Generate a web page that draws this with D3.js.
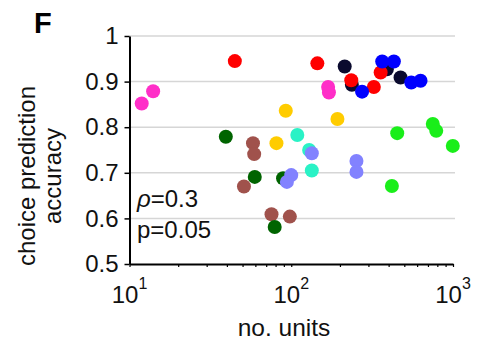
<!DOCTYPE html>
<html lang="en">
<head>
    <meta charset="UTF-8">
    <title>Choice prediction accuracy vs no. units</title>
    <script src="https://d3js.org/d3.v7.min.js"></script>
    <style>
        body { margin: 0; background: #fff; }
        text { font-family: "Liberation Sans", Arial, Helvetica, sans-serif; }
    </style>
</head>
<body>
    <script>
        // panel F: accuracy against number of units, one colour per animal/session
        var w = 478;
        var h = 345;

        // colour groups, in drawing order (later ones on top)
        var groupColors = ['#a0524c', '#006400', '#2af2c6', '#8282ff', '#ffcc00',
                           '#ff2ec8', '#0a0a2e', '#ff0000', '#0000ff', '#1aee1a'];

        // one entry per point
        var units = [
            58, 59, 51, 75.5, 98,
            39.4, 59.5, 89, 79,
            109, 129, 134,
            134, 100, 94, 253, 253,
            92.5, 193, 81,
            11.9, 14.0, 169, 171,
            214, 237, 390, 474,
            44.8, 145, 235, 324, 357,
            274, 365, 431, 552, 630,
            452, 750, 788, 997, 419
        ];
        var accuracy = [
            0.765, 0.741, 0.670, 0.609, 0.604,
            0.779, 0.691, 0.688, 0.581,
            0.783, 0.750, 0.705,
            0.743, 0.695, 0.680, 0.726, 0.702,
            0.836, 0.818, 0.765,
            0.852, 0.879, 0.888, 0.876,
            0.933, 0.893, 0.927, 0.909,
            0.945, 0.940, 0.903, 0.888, 0.920,
            0.878, 0.944, 0.944, 0.898, 0.902,
            0.787, 0.807, 0.792, 0.759, 0.671
        ];
        var group = [
            0, 0, 0, 0, 0,
            1, 1, 1, 1,
            2, 2, 2,
            3, 3, 3, 3, 3,
            4, 4, 4,
            5, 5, 5, 5,
            6, 6, 6, 6,
            7, 7, 7, 7, 7,
            8, 8, 8, 8, 8,
            9, 9, 9, 9, 9
        ];

        var yTicks = [0.5, 0.6, 0.7, 0.8, 0.9, 1];
        var yTickLabels = ['0.5', '0.6', '0.7', '0.8', '0.9', '1'];
        var xTicks = [10, 100, 1000];
        var xTickExp = ['1', '2', '3'];
        var xMinor = [20, 30, 40, 50, 60, 70, 80, 90, 200, 300, 400, 500, 600, 700, 800, 900];

        var dataset = units.map(function(u, i) {
            return { units: u, acc: accuracy[i], g: group[i] };
        });

        var xScale = d3.scaleLog()
                       .domain([10, 1000])
                       .range([129.5, 453]);

        var yScale = d3.scaleLinear()
                       .domain([0.5, 1])
                       .range([264, 36]);

        var svg = d3.select('body')
                    .append('svg')
                    .attr('width', w)
                    .attr('height', h);

        // grid
        svg.selectAll('.grid')
           .data(yTicks.slice(1))
           .enter()
           .append('line')
           .attr('class', 'grid')
           .attr('x1', xScale(10))
           .attr('x2', xScale(1000) + 2)
           .attr('y1', function(d) { return yScale(d); })
           .attr('y2', function(d) { return yScale(d); })
           .attr('stroke', '#d6d6d6')
           .attr('stroke-width', 1.5);

        // y axis
        var yAxis = d3.axisLeft(yScale)
                      .tickValues(yTicks)
                      .tickSize(5)
                      .tickSizeOuter(0)
                      .tickPadding(6)
                      .tickFormat(function(d, i) { return yTickLabels[i]; });

        var gy = svg.append('g')
                    .attr('transform', 'translate(' + xScale(10) + ',0)')
                    .call(yAxis);
        gy.select('.domain').attr('stroke', '#000').attr('stroke-width', 2);
        gy.selectAll('.tick line').attr('stroke', '#000').attr('stroke-width', 1.5);
        gy.selectAll('.tick text')
          .attr('font-size', 24)
          .attr('font-family', '"Liberation Sans", Arial, sans-serif')
          .attr('fill', '#111');

        // x axis, log with minor ticks
        var xAxis = d3.axisBottom(xScale)
                      .tickValues(xTicks.concat(xMinor))
                      .tickSize(3)
                      .tickSizeOuter(0)
                      .tickFormat('');

        var gx = svg.append('g')
                    .attr('transform', 'translate(0,' + yScale(0.5) + ')')
                    .call(xAxis);
        gx.select('.domain').attr('stroke', '#000').attr('stroke-width', 2);
        gx.selectAll('.tick line').attr('stroke', '#000').attr('stroke-width', 1.2);

        var xl = svg.selectAll('.xlab')
                    .data(xTicks)
                    .enter()
                    .append('text')
                    .attr('class', 'xlab')
                    .attr('x', function(d) { return xScale(d); })
                    .attr('y', 303)
                    .attr('text-anchor', 'middle')
                    .attr('font-size', 24)
                    .attr('fill', '#111');
        xl.append('tspan').text('10');
        xl.append('tspan')
          .attr('dy', -14)
          .attr('font-size', 16)
          .text(function(d, i) { return xTickExp[i]; });

        // points
        svg.selectAll('.dot')
           .data(dataset)
           .enter()
           .append('circle')
           .attr('class', 'dot')
           .attr('cx', function(d) { return xScale(d.units); })
           .attr('cy', function(d) { return yScale(d.acc); })
           .attr('r', 7)
           .attr('fill', function(d) { return groupColors[d.g]; });

        // stats
        svg.append('text')
           .attr('x', 137)
           .attr('y', 207)
           .attr('font-size', 24)
           .attr('fill', '#111')
           .html('<tspan font-style="italic">\u03C1</tspan>=0.3');
        svg.append('text')
           .attr('x', 137)
           .attr('y', 238)
           .attr('font-size', 24)
           .attr('fill', '#111')
           .text('p=0.05');

        // labels
        svg.append('text')
           .attr('x', 284)
           .attr('y', 336)
           .attr('text-anchor', 'middle')
           .attr('font-size', 24.5)
           .attr('fill', '#111')
           .text('no. units');

        var yl = svg.append('text')
                    .attr('transform', 'translate(35,176) rotate(-90)')
                    .attr('text-anchor', 'middle')
                    .attr('font-size', 24)
                    .attr('fill', '#111');
        yl.append('tspan').attr('x', 0).attr('y', 0).text('choice prediction');
        yl.append('tspan').attr('x', 0).attr('y', 26).text('accuracy');

        svg.append('text')
           .attr('x', 34)
           .attr('y', 33)
           .attr('font-size', 29)
           .attr('font-weight', 'bold')
           .attr('fill', '#000')
           .text('F');
    </script>
</body>
</html>
